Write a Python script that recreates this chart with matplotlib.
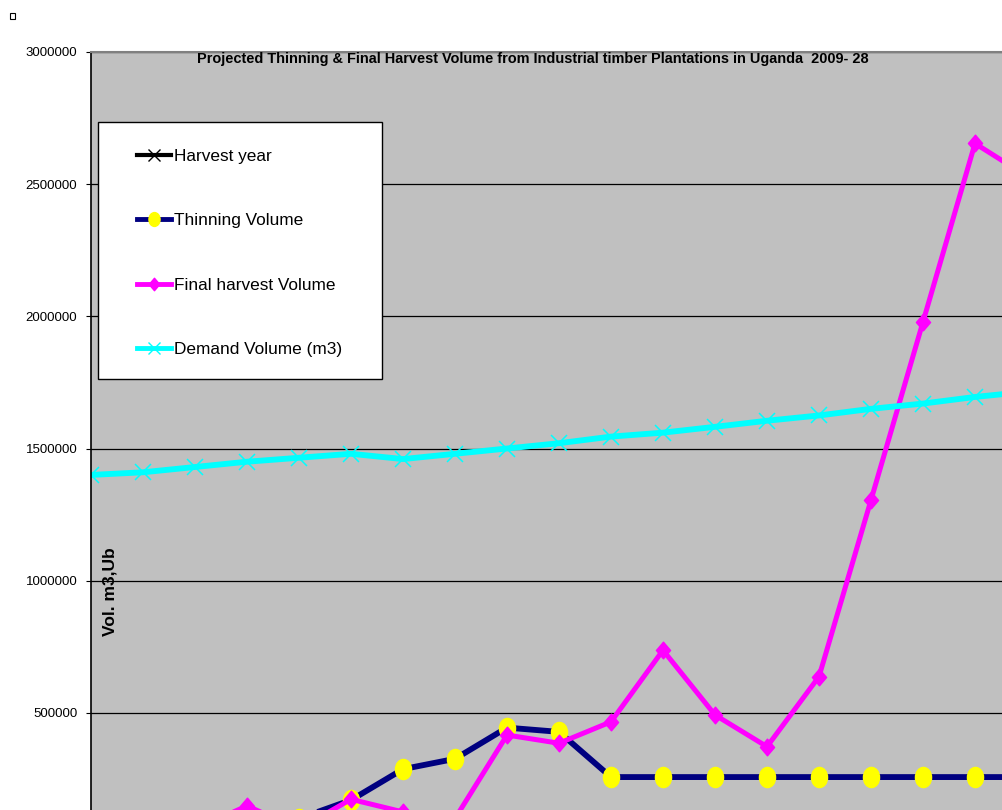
import matplotlib; matplotlib.use("Agg")
import matplotlib.pyplot as plt
from matplotlib.lines import Line2D
from matplotlib.patches import Rectangle
from matplotlib.path import Path

plt.rcParams['font.family'] = ['Liberation Sans', 'DejaVu Sans']

# data (2009-28); lower part of the chart is cropped in the original
years = [2009, 2010, 2011, 2012, 2013, 2014, 2015, 2016, 2017, 2018,
         2019, 2020, 2021, 2022, 2023, 2024, 2025, 2026, 2027, 2028]
harvest_year = years
thinning = [20000, 30000, 50000, 70000, 100000, 170000, 287000, 326000, 444000, 428000,
            257000, 257000, 257000, 257000, 257000, 257000, 257000, 257000, 257000, 257000]
final_harvest = [30000, 45000, 60000, 148000, 60000, 173000, 125000, 100000, 416000, 385000,
                 466000, 737000, 492000, 372000, 637000, 1305000, 1979000, 2654000, 2530000, 2400000]
demand = [1400000, 1410000, 1430000, 1450000, 1465000, 1480000, 1460000, 1480000, 1500000, 1520000,
          1545000, 1560000, 1582000, 1605000, 1625000, 1650000, 1670000, 1695000, 1715000, 1735000]
yticks = [500000, 1000000, 1500000, 2000000, 2500000, 3000000]
labels = ["Harvest year", "Thinning Volume", "Final harvest Volume", "Demand Volume (m3)"]
title = "Projected Thinning & Final Harvest Volume from Industrial timber Plantations in Uganda  2009- 28"

W, H = 1003, 810
fig = plt.figure(figsize=(W / 100, H / 100), dpi=100)
# plot area runs past the bottom/right edge like the cropped original
ax = fig.add_axes([91 / W, 1 - 845 / H, 988 / W, 793 / H])
ax.set_facecolor("#C0C0C0")

circ = Path.unit_circle()
ellipse = Path(circ.vertices * [0.8, 1.0], circ.codes)
diamond = Path([(0, 1), (0.85, 0), (0, -1), (-0.85, 0), (0, 1)],
               [Path.MOVETO, Path.LINETO, Path.LINETO, Path.LINETO, Path.CLOSEPOLY])

x = list(range(len(years)))
ax.plot(x, harvest_year, color="black", lw=3, marker="x", ms=10, mew=1)
ax.plot(x, thinning, color="#000080", lw=4.2, marker=ellipse, ms=14.5,
        mfc="#FFFF00", mec="#FFFF00")
ax.plot(x, final_harvest, color="#FF00FF", lw=3.6, marker=diamond, ms=12,
        mfc="#FF00FF", mec="#FF00FF")
ax.plot(x, demand, color="#00FFFF", lw=4.2, marker="x", ms=11, mew=1.1, mec="#00FFFF")

ax.set_xlim(0, len(years) - 1)
ax.set_ylim(0, 3000000)
ax.set_yticks(yticks)
ax.ticklabel_format(axis="y", style="plain", useOffset=False)
ax.set_xticks([])
ax.yaxis.grid(True, color="black", lw=0.9)
ax.set_axisbelow(True)
ax.tick_params(axis="y", direction="out", length=3.8, width=0.8, pad=6, labelsize=9.5)
for s in ["right", "bottom"]:
    ax.spines[s].set_visible(False)
ax.spines["top"].set_color("#808080")
ax.spines["top"].set_linewidth(1.5)
ax.spines["left"].set_linewidth(1.2)

fig.text(110 / W, 1 - 592 / H, "Vol. m3,Ub", rotation=90, ha="center", va="center",
         fontweight="bold", fontsize=12.5)

t = fig.text(533 / W, 1 - 59 / H, title, ha="center", va="center", fontweight="bold", fontsize=10)
fig.canvas.draw()
w = t.get_window_extent().width
t.set_fontsize(10 * 673 / w)

# legend box
fig.patches.append(Rectangle((98 / W, 1 - 379 / H), 284 / W, 257 / H, transform=fig.transFigure,
                             facecolor="white", edgecolor="black", lw=1, zorder=1))
handles = [
    Line2D([], [], color="black", lw=3, marker="x", ms=8, mew=1),
    Line2D([], [], color="#000080", lw=3.5, marker=ellipse, ms=10, mfc="#FFFF00", mec="#FFFF00"),
    Line2D([], [], color="#FF00FF", lw=3.5, marker=diamond, ms=9, mfc="#FF00FF", mec="#FF00FF"),
    Line2D([], [], color="#00FFFF", lw=3.5, marker="x", ms=9, mew=1, mec="#00FFFF"),
]
fig.legend(handles, labels, loc="upper left", bbox_to_anchor=(137 / W, 1 - 149 / H),
           frameon=False, fontsize=12.4, handlelength=2.0, handletextpad=0.12,
           labelspacing=2.86, borderpad=0, borderaxespad=0)

fig.patches.append(Rectangle((10 / W, 1 - 18.5 / H), 5 / W, 5.5 / H, transform=fig.transFigure,
                             fill=False, edgecolor="black", lw=0.8))

fig.savefig("out.png", dpi=100)
print("wrote out.png")
